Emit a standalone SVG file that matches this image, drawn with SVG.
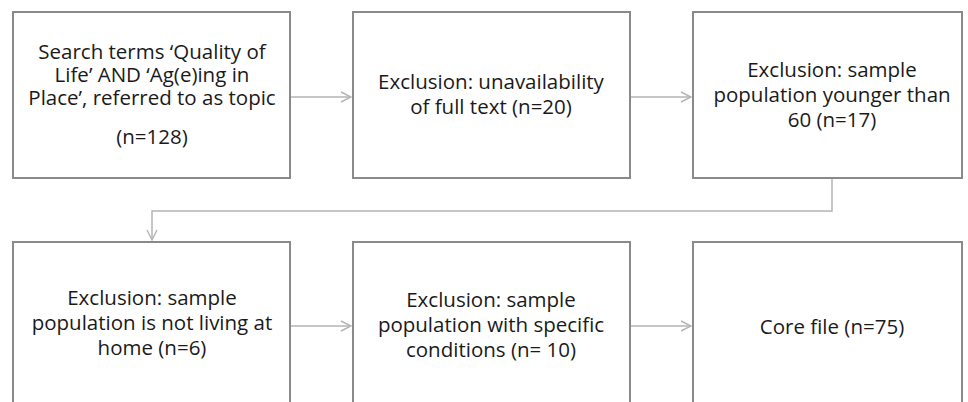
<svg xmlns="http://www.w3.org/2000/svg" width="968" height="402" viewBox="0 0 968 402">
<defs>
<style>
.box{fill:#fff;stroke:#8a8a8a;stroke-width:2}
.lbl{font-family:"Open Sans","Noto Sans","DejaVu Sans",sans-serif;font-size:20.5px;fill:#1a1a1a;text-anchor:middle}
.con{fill:none;stroke:#b4b4b4;stroke-width:1.5}
</style>
<marker id="arr" viewBox="0 0 12 12" refX="11" refY="6" markerWidth="12" markerHeight="12" markerUnits="userSpaceOnUse" orient="auto">
<path d="M1,1 L11,6 L1,11" fill="none" stroke="#b4b4b4" stroke-width="1.4"/>
</marker>
</defs>
<rect width="968" height="402" fill="#fff"/>
<g id="connectors">
<line class="con" x1="291" y1="97" x2="351" y2="97" marker-end="url(#arr)"/>
<line class="con" x1="631" y1="97" x2="691" y2="97" marker-end="url(#arr)"/>
<polyline class="con" points="832,179 832,211 152,211 152,240" marker-end="url(#arr)"/>
<line class="con" x1="291" y1="326" x2="351" y2="326" marker-end="url(#arr)"/>
<line class="con" x1="631" y1="326" x2="691" y2="326" marker-end="url(#arr)"/>
</g>
<g id="n1">
<rect class="box" x="13" y="12" width="277" height="166"/>
<text class="lbl"><tspan x="152" y="59">Search terms ‘Quality of</tspan><tspan x="152" y="82">Life’ AND ‘Ag(e)ing in</tspan><tspan x="152" y="105">Place’, referred to as topic</tspan><tspan x="152" y="144">(n=128)</tspan></text>
</g>
<g id="n2">
<rect class="box" x="353" y="12" width="277" height="166"/>
<text class="lbl"><tspan x="491" y="89">Exclusion: unavailability</tspan><tspan x="491" y="114">of full text (n=20)</tspan></text>
</g>
<g id="n3">
<rect class="box" x="693" y="12" width="269" height="166"/>
<text class="lbl"><tspan x="832" y="77">Exclusion: sample</tspan><tspan x="832" y="102">population younger than</tspan><tspan x="832" y="127">60 (n=17)</tspan></text>
</g>
<g id="n4">
<rect class="box" x="13" y="242" width="277" height="170"/>
<text class="lbl"><tspan x="152" y="305">Exclusion: sample</tspan><tspan x="152" y="330">population is not living at</tspan><tspan x="152" y="355">home (n=6)</tspan></text>
</g>
<g id="n5">
<rect class="box" x="353" y="242" width="277" height="170"/>
<text class="lbl"><tspan x="491" y="307">Exclusion: sample</tspan><tspan x="491" y="332">population with specific</tspan><tspan x="491" y="357">conditions (n= 10)</tspan></text>
</g>
<g id="n6">
<rect class="box" x="693" y="242" width="269" height="170"/>
<text class="lbl" x="832" y="334">Core file (n=75)</text>
</g>
</svg>
